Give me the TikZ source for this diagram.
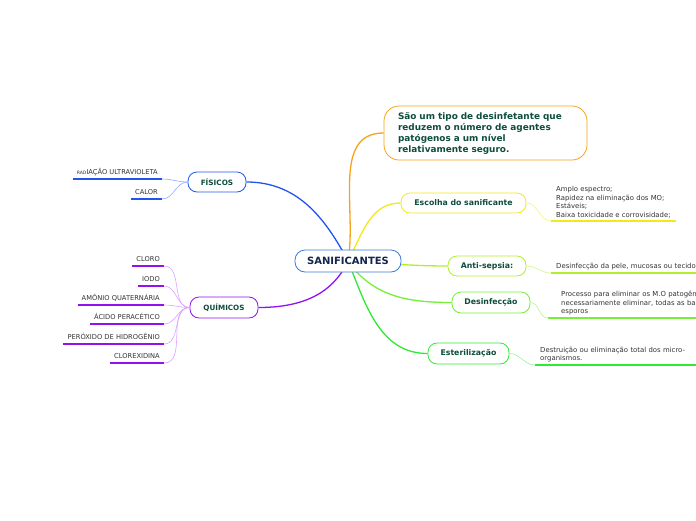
\documentclass[tikz,border=0pt]{standalone}
\usepackage{fontspec}
\setmainfont{DejaVu Sans}
\usetikzlibrary{backgrounds}
\definecolor{cBlue}{HTML}{2255EE}
\definecolor{cBlueL}{HTML}{8FAEFF}
\definecolor{cPurple}{HTML}{9311EE}
\definecolor{cPurpleL}{HTML}{D9A3FF}
\definecolor{cOrange}{HTML}{F7A21B}
\definecolor{cYellow}{HTML}{F2E81E}
\definecolor{cYellowL}{HTML}{F8F27A}
\definecolor{cLime}{HTML}{B2EE2E}
\definecolor{cLimeL}{HTML}{D4F58A}
\definecolor{cGreenA}{HTML}{77EE3A}
\definecolor{cGreenAL}{HTML}{B4F590}
\definecolor{cGreenB}{HTML}{33E833}
\definecolor{cGreenBL}{HTML}{9BF29B}
\definecolor{cSani}{HTML}{3A7BD5}
\definecolor{tGreen}{HTML}{0E4D3E}
\definecolor{tNavy}{HTML}{14264F}
\definecolor{tLeaf}{HTML}{333333}
\tikzset{
  topic/.style={draw=#1, fill=white, line width=0.8pt, rounded corners=9pt,
    inner sep=0pt, text=tGreen, font=\bfseries\fontsize{7.8}{9}\selectfont},
  mainc/.style={draw=#1, line width=1.3pt},
  thinc/.style={draw=#1, line width=0.6pt},
  uline/.style={draw=#1, line width=2pt},
  leafL/.style={anchor=south east, inner xsep=4pt, inner ysep=3pt, text height=5pt, text depth=1pt,
    text=tLeaf, font=\fontsize{6.7}{8.7}\selectfont},
  leafR/.style={anchor=south west, inner xsep=5pt, inner ysep=2.5pt, align=left,
    text=tLeaf, font=\fontsize{6.9}{8.6}\selectfont},
}
\begin{document}
\begin{tikzpicture}[x=1pt,y=-1pt]
\useasboundingbox (0,0) rectangle (696,520);

% central and main topics
\node[topic=cSani, rounded corners=10pt, minimum width=106pt, minimum height=22pt, text=tNavy,
  font=\bfseries\fontsize{10}{11}\selectfont] (s) at (348,261) {SANIFICANTES};
\node[topic=cBlue, minimum width=58pt, minimum height=20pt, font=\bfseries\fontsize{7.3}{8}\selectfont] (f) at (217,182) {FÍSICOS};
\node[topic=cPurple, minimum width=68pt, minimum height=21pt, font=\bfseries\fontsize{7.2}{8}\selectfont] (q) at (224,307.5) {QUÍMICOS};
\node[topic=cOrange, rounded corners=15pt, minimum width=203pt, minimum height=54pt, inner xsep=14pt,
  text width=175pt, align=left, font=\bfseries\fontsize{8.9}{11}\selectfont] (def) at (485.5,133)
  {São um tipo de desinfetante que\\reduzem o número de agentes\\patógenos a um nível\\relativamente seguro.};
\node[topic=cYellow, minimum width=125pt, minimum height=20pt] (esc) at (463.5,203) {Escolha do sanificante};
\node[topic=cLime, minimum width=78pt, minimum height=20pt] (ant) at (487,266) {Anti-sepsia:};
\node[topic=cGreenA, minimum width=78pt, minimum height=21pt] (des) at (491,302.5) {Desinfecção};
\node[topic=cGreenB, minimum width=81pt, minimum height=21pt] (est) at (468.5,353.5) {Esterilização};

% main connectors (behind nodes)
\begin{scope}[on background layer]
\draw[mainc=cBlue] (s.center) to[out=118,in=0] (f.east);
\draw[mainc=cPurple] (s.center) to[out=245,in=0] (q.east);
\draw[mainc=cOrange] (s.center) to[out=80,in=180] (def.west);
\draw[mainc=cYellow] (s.center) to[out=62,in=180] (esc.west);
\draw[mainc=cLime] (s.center) to[out=-3,in=180] (ant.west);
\draw[mainc=cGreenA] (s.center) to[out=-55,in=180] (des.west);
\draw[mainc=cGreenB] (s.center) to[out=-68,in=180] (est.west);
\end{scope}

% FÍSICOS leaves
\node[leafL] (f1) at (162,179) {{\fontsize{4.6}{5}\selectfont RAD}IAÇÃO ULTRAVIOLETA};
\node[leafL] (f2) at (162,199) {CALOR};
\foreach \n in {f1,f2}{
  \draw[uline=cBlue] (\n.south west) -- (\n.south east);
  \draw[thinc=cBlueL] (f.west) to[out=180,in=0] (\n.south east);
}

% QUÍMICOS leaves
\node[leafL] (q1) at (164,266) {CLORO};
\node[leafL] (q2) at (164,286) {IODO};
\node[leafL] (q3) at (164,305) {AMÔNIO QUATERNÁRIA};
\node[leafL] (q4) at (164,324) {ÁCIDO PERACÉTICO};
\node[leafL] (q5) at (164,344) {PERÓXIDO DE HIDROGÊNIO};
\node[leafL] (q6) at (164,363) {CLOREXIDINA};
\foreach \n in {q1,q2,q3,q4,q5,q6}{
  \draw[uline=cPurple] (\n.south west) -- (\n.south east);
  \draw[thinc=cPurpleL] (q.west) to[out=180,in=0] (\n.south east);
}

% right leaves
\node[leafR] (e1) at (551,221) {Amplo espectro;\\Rapidez na eliminação dos MO;\\Estáveis;\\Baixa toxicidade e corrovisidade;};
\draw[uline=cYellow] (e1.south west) -- (e1.south east);
\draw[thinc=cYellowL] (esc.east) to[out=0,in=180] (e1.south west);

\node[leafR, text width=140pt] (a1) at (551,273) {Desinfecção da pele, mucosas ou tecido};
\draw[uline=cLime] (a1.south west) -- (a1.south east);
\draw[thinc=cLimeL] (ant.east) to[out=0,in=180] (a1.south west);

\node[leafR, text width=140pt] (d1) at (556,318) {Processo para eliminar os M.O patogên\\necessariamente eliminar, todas as ba\\esporos};
\draw[uline=cGreenA] ([xshift=-8pt]d1.south west) -- (d1.south east);
\draw[thinc=cGreenAL] (des.east) to[out=0,in=180] ([xshift=-8pt]d1.south west);

\node[leafR, text width=160pt] (t1) at (535,365) {Destruição ou eliminação total dos micro-\\organismos.};
\draw[uline=cGreenB] (t1.south west) -- (t1.south east);
\draw[thinc=cGreenBL] (est.east) to[out=0,in=180] (t1.south west);
\end{tikzpicture}
\end{document}
